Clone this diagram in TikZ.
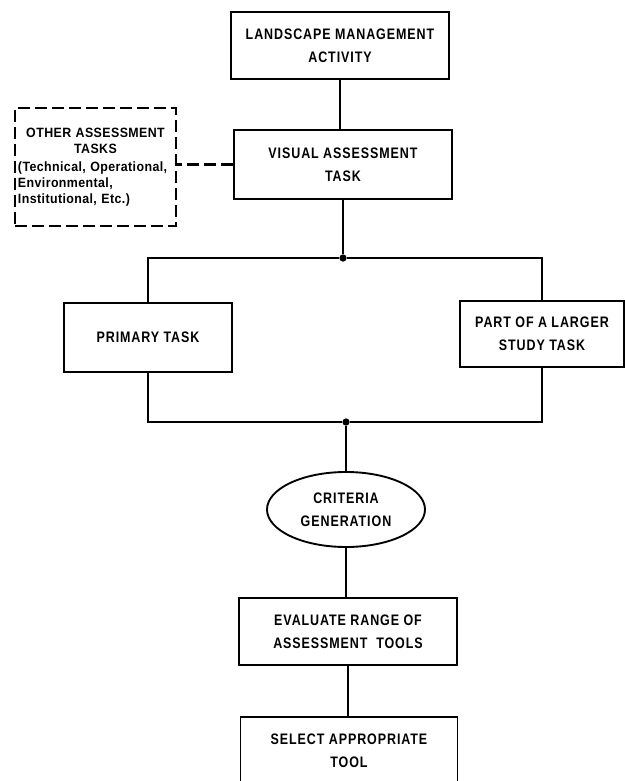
\documentclass[tikz,border=0pt]{standalone}
\usepackage{fontspec}
\newfontfamily\chartfont[FakeStretch=0.82,LetterSpace=6]{Liberation Sans}
\newfontfamily\notefont[FakeStretch=0.92,LetterSpace=3]{Liberation Sans}
\usetikzlibrary{shapes.geometric}

\begin{document}
\begin{tikzpicture}[x=0.03cm, y=-0.03cm,
  taskbox/.style={draw, line width=1.6pt, inner sep=0pt, align=center,
    font=\chartfont\bfseries\fontsize{13}{19.5}\selectfont},
  link/.style={line width=2pt},
  dashlink/.style={line width=2.2pt, dash pattern=on 0.36cm off 0.15cm},
  joindot/.style={circle, fill=black, inner sep=0pt, minimum size=0.22cm}]
  \useasboundingbox (0,0) rectangle (625,781);
  % draw task boxes
  \node[taskbox, minimum width=6.54cm, minimum height=2.01cm] (task_landscape) at (340,45.5) {LANDSCAPE MANAGEMENT\\ACTIVITY};
  \node[taskbox, minimum width=6.54cm, minimum height=2.07cm] (task_visual) at (343,164.5) {VISUAL ASSESSMENT\\TASK};
  \node[draw, line width=1.6pt, dash pattern=on 0.36cm off 0.15cm, inner sep=0.08cm, text width=4.65cm,
    minimum width=4.83cm, minimum height=3.54cm, font=\notefont\bfseries\fontsize{11.5}{13.5}\selectfont]
    (task_other) at (95.5,167) {{\centering OTHER ASSESSMENT\\TASKS\par}\vspace{2pt}\raggedright(Technical, Operational,\\Environmental,\\Institutional, Etc.)};
  \node[taskbox, minimum width=5.04cm, minimum height=2.07cm] (task_primary) at (148,337.5) {PRIMARY TASK};
  \node[taskbox, minimum width=4.92cm, minimum height=1.98cm] (task_larger) at (542,334) {PART OF A LARGER\\STUDY TASK};
  \node[taskbox, ellipse, minimum width=4.74cm, minimum height=2.25cm] (task_criteria) at (346,509.5) {CRITERIA\\GENERATION};
  \node[taskbox, minimum width=6.54cm, minimum height=2.01cm] (task_evaluate) at (348,631.5) {EVALUATE RANGE OF\\ASSESSMENT\ \ TOOLS};
  \node[taskbox, minimum width=6.51cm, minimum height=2.01cm] (task_select) at (349,750.5) {SELECT APPROPRIATE\\TOOL};
  % draw junction dots
  \node[joindot] (join_top) at (343,258) {};
  \node[joindot] (join_bottom) at (346,422) {};
  % draw connectors
  \draw[link] (task_landscape.south) -- (task_landscape.south |- task_visual.north);
  \draw[dashlink] (task_visual.west) -- (task_visual.west -| task_other.east);
  \draw[link] (task_visual.south) -- (join_top);
  \draw[link] (task_primary.north) |- (join_top) -| (task_larger.north);
  \draw[link] (task_primary.south) |- (join_bottom) -| (task_larger.south);
  \draw[link] (join_bottom) -- (task_criteria.north);
  \draw[link] (task_criteria.south) -- (task_criteria.south |- task_evaluate.north);
  \draw[link] (task_evaluate.south) -- (task_evaluate.south |- task_select.north);
\end{tikzpicture}
\end{document}
